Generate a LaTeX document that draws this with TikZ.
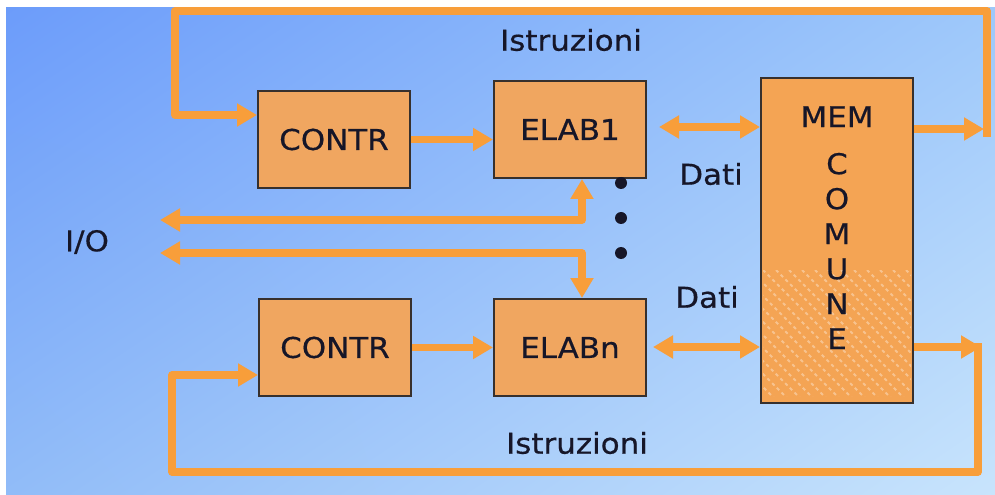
\documentclass[tikz,border=0pt]{standalone}
\usepackage{fontspec}
\setmainfont{DejaVu Sans}[FakeStretch=1.08, FakeBold=0.5]
\usetikzlibrary{arrows.meta,shadings}

\definecolor{bgTL}{RGB}{108,156,250}
\definecolor{bgTR}{RGB}{158,200,250}
\definecolor{bgBL}{RGB}{145,188,248}
\definecolor{bgBR}{RGB}{200,228,252}
\definecolor{boxfill}{RGB}{240,166,96}
\definecolor{memfill}{RGB}{244,164,84}
\definecolor{boxline}{RGB}{55,48,45}
\definecolor{wire}{RGB}{248,158,58}
\definecolor{ink}{RGB}{22,22,40}

\begin{document}
\begin{tikzpicture}[x=0.75pt,y=-0.75pt,
  txt/.style={text=ink, inner sep=0pt, font=\fontsize{21.5}{26.25}\selectfont},
  unit/.style={txt, draw=boxline, line width=1.5pt, fill=boxfill,
    minimum width=114pt, minimum height=72.75pt},
  wire/.style={draw=wire, line width=5.5pt, line join=round},
  arr/.style={wire, -{Triangle[length=15pt,width=16.5pt]}},
  darr/.style={wire, {Triangle[length=15pt,width=16.5pt]}-{Triangle[length=15pt,width=16.5pt]}},
  dot/.style={circle, fill=ink, inner sep=0pt, minimum size=9pt}]

% page and background
\useasboundingbox (0,0) rectangle (995,495);
\fill[white] (0,0) rectangle (995,495);
\shade[upper left=bgTL, upper right=bgTR, lower left=bgBL, lower right=bgBR]
  (6,8) rectangle (995,495);

% blocks
\node[unit] (contrA) at (334,139.5) {CONTR};
\node[unit] (elabA)  at (570,129.5) {ELAB1};
\node[unit] (contrB) at (335,347.5) {CONTR};
\node[unit] (elabB)  at (570,347.5) {ELABn};
\node[unit, fill=memfill, minimum height=243.75pt] (mem) at (837,240.5) {};

% texture on the lower part of the shared memory
\begin{scope}
  \clip (763,270) rectangle (911,396);
  \foreach \i in {0,...,22}
    \draw[white, opacity=.35, line width=1.5pt, dash pattern=on 2.5pt off 2.5pt]
      (620+\i*13,270) -- ++(135,135);
\end{scope}
\node[txt, align=center, anchor=north] (memtxt) at (837,106)
  {MEM\\[9pt]C\\O\\M\\U\\N\\E};

% labels
\node[txt] (istrA) at (571,40)  {Istruzioni};
\node[txt] (istrB) at (577,443) {Istruzioni};
\node[txt] (datiA) at (711,174) {Dati};
\node[txt] (datiB) at (707,297) {Dati};
\node[txt] (io)    at (87,242)  {I/O};

% dots between the processing units
\node[dot] (dotA) at (621,183) {};
\node[dot] (dotB) at (621,218) {};
\node[dot] (dotC) at (621,253) {};

% control to processing
\draw[arr] (contrA.east) -- (contrA.east -| elabA.west);
\draw[arr] (contrB.east) -- (elabB.west);

% data paths to the memory
\draw[darr, shorten <=9pt] (elabA.east |- 0,127) -- (mem.west |- 0,127);
\draw[darr, shorten <=4.5pt] (elabB.east |- 0,347) -- (mem.west |- 0,347);

% instruction loop, top
\coordinate (outA) at (984,129);
\coordinate (upA)  at (987,137);
\coordinate (topR) at (987,11);
\coordinate (topL) at (175,11);
\draw[arr] (mem.east |- outA) -- (outA);
\draw[arr] (upA) -- (topR) -- (topL) |- (contrA.west |- 0,115);

% instruction loop, bottom
\coordinate (outB) at (981,347);
\coordinate (dnB)  at (978,343);
\coordinate (botR) at (978,472);
\coordinate (botL) at (172,472);
\draw[arr] (mem.east |- outB) -- (outB);
\draw[arr] (dnB) -- (botR) -- (botL) |- (contrB.west |- 0,375);

% I/O lines
\coordinate (ioA) at (160,220);
\coordinate (ioB) at (160,253);
\draw[darr] (ioA) -| ([xshift=9pt]elabA.south);
\draw[darr] (ioB) -| ([xshift=9pt]elabB.north);
\end{tikzpicture}
\end{document}
